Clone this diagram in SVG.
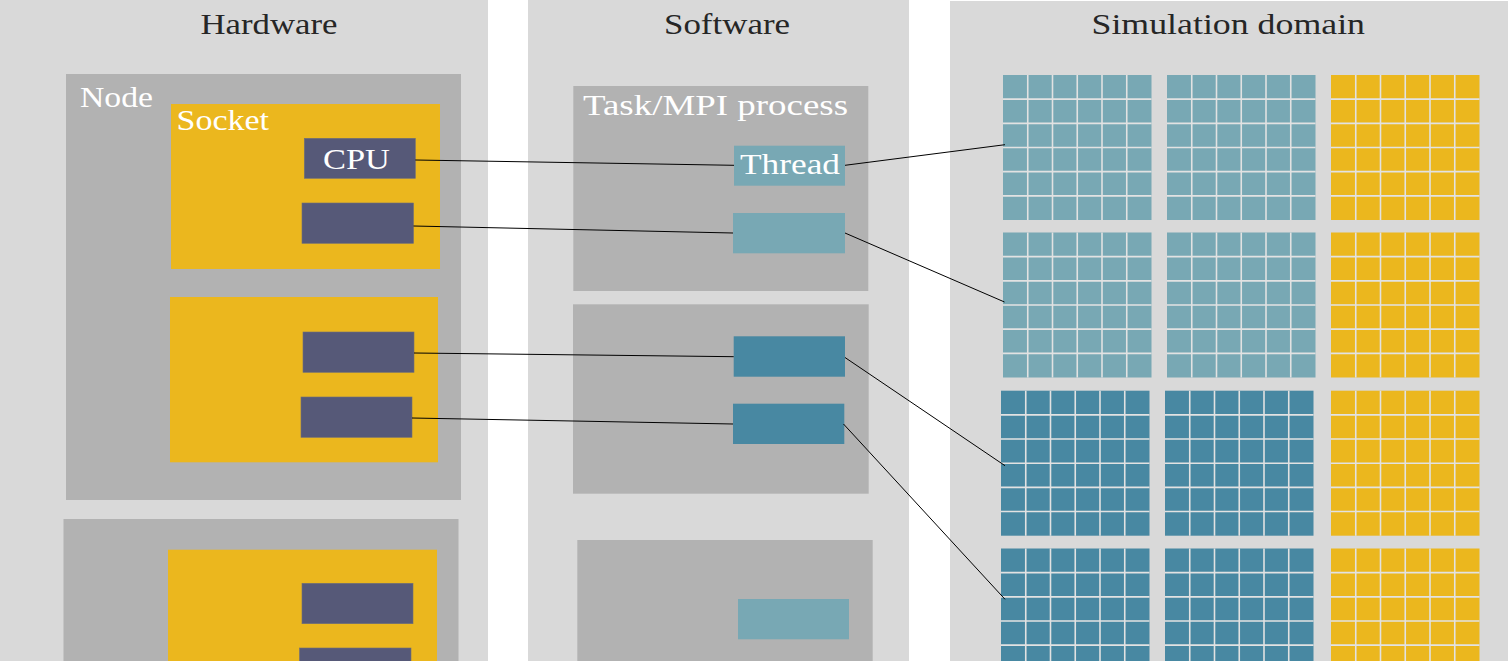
<svg xmlns="http://www.w3.org/2000/svg" xmlns:xlink="http://www.w3.org/1999/xlink" width="1508" height="661" viewBox="0 0 1508 661">
<style>
.panel{fill:#d9d9d9}
.box{fill:#b2b2b2}
.sock{fill:#ebb71e}
.cpu{fill:#565978;stroke:#6e6e7a;stroke-width:0.6}
.thl{fill:#78a8b4}
.thd{fill:#4888a2}
.title{font-family:"Liberation Serif","DejaVu Serif",serif;font-size:30px;fill:#262626}
.lab{font-family:"Liberation Serif","DejaVu Serif",serif;font-size:29px;fill:#ffffff}
.grid{fill:none;stroke:#e2e2e2;stroke-width:1.6}
.conn line{stroke:#000000;stroke-width:1}
</style>
<defs>
<path id="gridlines" class="grid" d="M24.75,0V145M49.5,0V145M74.25,0V145M99,0V145M123.75,0V145M0,24.17H148.5M0,48.33H148.5M0,72.5H148.5M0,96.67H148.5M0,120.83H148.5"/>
</defs>

<g id="panel-hardware">
<rect class="panel" x="0" y="0" width="488" height="661"/>
<text class="title" x="200.5" y="34" textLength="137" lengthAdjust="spacingAndGlyphs">Hardware</text>
</g>
<g id="panel-software">
<rect class="panel" x="528" y="0" width="381" height="661"/>
<text class="title" x="664" y="34" textLength="126" lengthAdjust="spacingAndGlyphs">Software</text>
</g>
<g id="panel-simulation">
<rect class="panel" x="950" y="1" width="558" height="660"/>
<text class="title" x="1091.5" y="34" textLength="273.5" lengthAdjust="spacingAndGlyphs">Simulation domain</text>
</g>

<g id="node1">
<rect class="box" x="66" y="74" width="395" height="426"/>
<text class="lab" x="80" y="107" textLength="73" lengthAdjust="spacingAndGlyphs">Node</text>
</g>
<g id="socket1">
<rect class="sock" x="171" y="104" width="269" height="165"/>
<text class="lab" x="176.5" y="130" textLength="92.5" lengthAdjust="spacingAndGlyphs">Socket</text>
</g>
<g id="cpu1">
<rect class="cpu" x="304.3" y="138.3" width="111" height="40"/>
<text class="lab" x="323" y="168.5" textLength="67" lengthAdjust="spacingAndGlyphs">CPU</text>
</g>
<g id="cpu2"><rect class="cpu" x="302" y="203" width="111.5" height="40.3"/></g>
<g id="socket2"><rect class="sock" x="170" y="297" width="268" height="165.3"/></g>
<g id="cpu3"><rect class="cpu" x="303" y="332" width="111" height="40.3"/></g>
<g id="cpu4"><rect class="cpu" x="301" y="397" width="111" height="40.3"/></g>
<g id="node2"><rect class="box" x="63.5" y="519" width="395" height="150"/></g>
<g id="socket3"><rect class="sock" x="168" y="549.7" width="269" height="120"/></g>
<g id="cpu5"><rect class="cpu" x="302" y="583.3" width="111" height="40.4"/></g>
<g id="cpu6"><rect class="cpu" x="299.5" y="648" width="111.5" height="40"/></g>

<g id="task1">
<rect class="box" x="573.3" y="86" width="295" height="205"/>
<text class="lab" x="583" y="115" textLength="265" lengthAdjust="spacingAndGlyphs">Task/MPI process</text>
</g>
<g id="thread1">
<rect class="thl" x="734" y="145.7" width="111" height="40"/>
<text class="lab" x="740" y="173.5" textLength="100" lengthAdjust="spacingAndGlyphs">Thread</text>
</g>
<g id="thread2"><rect class="thl" x="733" y="213" width="112" height="40.3"/></g>
<g id="task2"><rect class="box" x="573" y="304.3" width="295.7" height="189.4"/></g>
<g id="thread3"><rect class="thd" x="733.7" y="336.3" width="111.3" height="40.4"/></g>
<g id="thread4"><rect class="thd" x="733" y="403.7" width="111.3" height="40.3"/></g>
<g id="task3"><rect class="box" x="577.3" y="540" width="295.4" height="130"/></g>
<g id="thread5"><rect class="thl" x="738" y="599" width="111" height="40.3"/></g>

<g id="domain">
<g id="block-r1c1" transform="translate(1003,75)"><rect class="thl" width="148.5" height="145"/><use xlink:href="#gridlines"/></g>
<g id="block-r1c2" transform="translate(1167,75)"><rect class="thl" width="148.5" height="145"/><use xlink:href="#gridlines"/></g>
<g id="block-r1c3" transform="translate(1331,75)"><rect class="sock" width="148.5" height="145"/><use xlink:href="#gridlines"/></g>
<g id="block-r2c1" transform="translate(1003,232.5)"><rect class="thl" width="148.5" height="145"/><use xlink:href="#gridlines"/></g>
<g id="block-r2c2" transform="translate(1167,232.5)"><rect class="thl" width="148.5" height="145"/><use xlink:href="#gridlines"/></g>
<g id="block-r2c3" transform="translate(1331,232.5)"><rect class="sock" width="148.5" height="145"/><use xlink:href="#gridlines"/></g>
<g id="block-r3c1" transform="translate(1001,390.7)"><rect class="thd" width="148.5" height="145"/><use xlink:href="#gridlines"/></g>
<g id="block-r3c2" transform="translate(1165,390.7)"><rect class="thd" width="148.5" height="145"/><use xlink:href="#gridlines"/></g>
<g id="block-r3c3" transform="translate(1331,390.7)"><rect class="sock" width="148.5" height="145"/><use xlink:href="#gridlines"/></g>
<g id="block-r4c1" transform="translate(1001,548.5)"><rect class="thd" width="148.5" height="145"/><use xlink:href="#gridlines"/></g>
<g id="block-r4c2" transform="translate(1165,548.5)"><rect class="thd" width="148.5" height="145"/><use xlink:href="#gridlines"/></g>
<g id="block-r4c3" transform="translate(1331,548.5)"><rect class="sock" width="148.5" height="145"/><use xlink:href="#gridlines"/></g>
</g>

<g id="connectors" class="conn">
<line x1="415.3" y1="160" x2="734" y2="165.3"/>
<line x1="845" y1="165.3" x2="1005" y2="144.7"/>
<line x1="413.5" y1="226" x2="733" y2="233"/>
<line x1="845" y1="233" x2="1004.5" y2="302"/>
<line x1="414" y1="353" x2="733.7" y2="356.7"/>
<line x1="845" y1="357.5" x2="1005" y2="465.7"/>
<line x1="412" y1="418" x2="733" y2="424"/>
<line x1="843.5" y1="424" x2="1005" y2="599.3"/>
</g>
</svg>
